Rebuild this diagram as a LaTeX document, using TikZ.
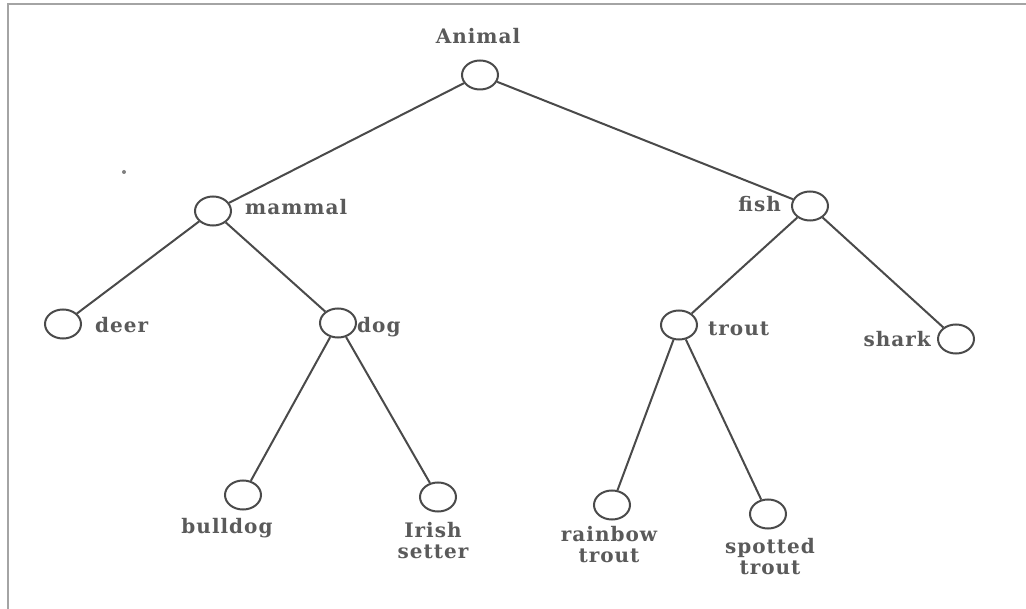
\documentclass[tikz,border=0pt]{standalone}
\usepackage{fontspec}
\usetikzlibrary{shapes.geometric}
\newfontfamily\lblfont{DejaVu Serif}[LetterSpace=5]
\definecolor{inkc}{HTML}{4A4A4A}
\definecolor{txtc}{HTML}{5A5A5A}
\definecolor{framec}{HTML}{A4A4A4}
\begin{document}
\begin{tikzpicture}[x=1pt,y=-1pt,
  vtx/.style={ellipse,draw=inkc,line width=2pt,minimum width=36pt,minimum height=29pt,inner sep=0pt},
  lbl/.style={inner sep=0pt,text=txtc,font=\fontsize{20}{21}\selectfont\lblfont\bfseries},
  lbl2/.style={lbl,align=center},
  edge/.style={draw=inkc,line width=2pt}]
\useasboundingbox (0,0) rectangle (1026,609);
\fill[white] (0,0) rectangle (1026,609);
% frame (top and left edges)
\coordinate (ftr) at (1026,4.5);
\coordinate (ftl) at (7.5,4.5);
\coordinate (fbl) at (7.5,609);
\draw[framec,line width=2pt] (ftr) -- (ftl) -- (fbl);
% vertices
\node[vtx] (animal) at (480,75) {};
\node[vtx] (mammal) at (213,211) {};
\node[vtx] (fish) at (810,206) {};
\node[vtx] (deer) at (63,324) {};
\node[vtx] (dog) at (338,323) {};
\node[vtx] (trout) at (679,325) {};
\node[vtx] (shark) at (956,339) {};
\node[vtx] (bulldog) at (243,495) {};
\node[vtx] (irish) at (438,497) {};
\node[vtx] (rainbow) at (612,505) {};
\node[vtx] (spotted) at (768,514) {};
% edges
\draw[edge] (animal) -- (mammal);
\draw[edge] (animal) -- (fish);
\draw[edge] (mammal) -- (deer);
\draw[edge] (mammal) -- (dog);
\draw[edge] (dog) -- (bulldog);
\draw[edge] (dog) -- (irish);
\draw[edge] (fish) -- (trout);
\draw[edge] (fish) -- (shark);
\draw[edge] (trout) -- (rainbow);
\draw[edge] (trout) -- (spotted);
% labels
\node[lbl,anchor=base] (lanimal) at (478,44) {Animal};
\node[lbl,anchor=base west] (lmammal) at (245,215) {mammal};
\node[lbl,anchor=base east] (lfish) at (781,212) {fish};
\node[lbl,anchor=base west] (ldeer) at (95,333) {deer};
\node[lbl,anchor=base west] (ldog) at (357,333) {dog};
\node[lbl,anchor=base west] (ltrout) at (708,336) {trout};
\node[lbl,anchor=base east] (lshark) at (931,347) {shark};
\node[lbl,anchor=base] (lbulldog) at (227,533) {bulldog};
\node[lbl2] (lirish) at (433,541) {Irish\\setter};
\node[lbl2] (lrainbow) at (609,545) {rainbow\\trout};
\node[lbl2] (lspotted) at (770,557) {spotted\\trout};
% speck
\fill[gray] (124,172) circle (2);
\end{tikzpicture}
\end{document}
